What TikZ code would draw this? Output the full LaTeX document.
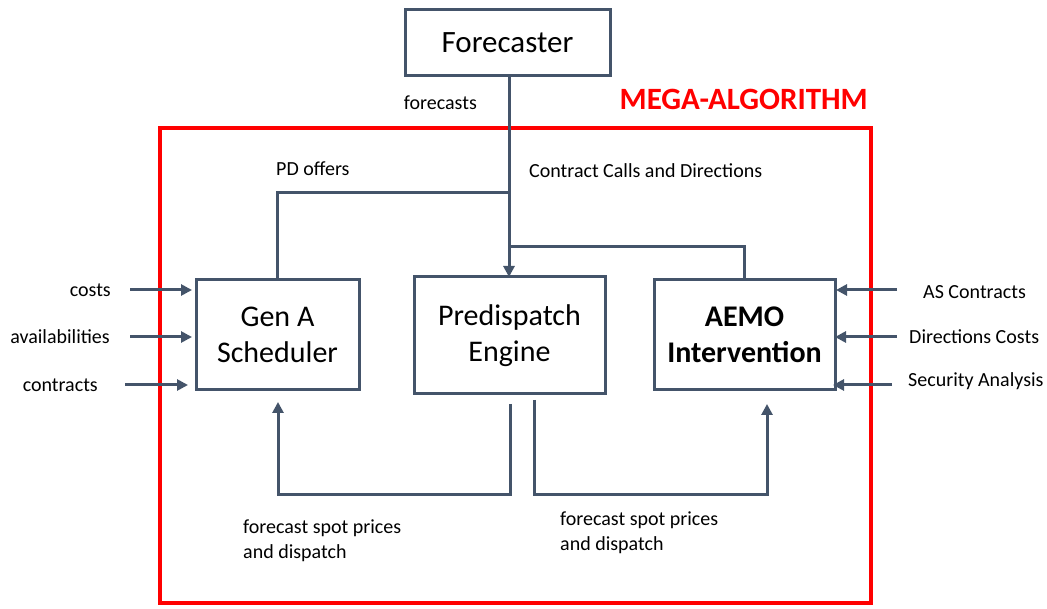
\documentclass[tikz,border=0pt]{standalone}
\usepackage{fontspec}
\setmainfont{Carlito}
\usetikzlibrary{arrows.meta}
\definecolor{slate}{HTML}{44546A}
\definecolor{megared}{HTML}{FF0000}
\tikzset{
  box/.style={draw=slate, line width=3pt, inner sep=0pt, outer sep=0pt, align=center, font=\fontsize{30}{36}\selectfont},
  conn/.style={draw=slate, line width=3pt},
  arr/.style={conn, -{Triangle[length=11pt,width=11pt]}},
  lbl/.style={inner sep=0pt, font=\fontsize{20}{25}\selectfont, text=black},
}
\begin{document}
\begin{tikzpicture}[x=1pt,y=-1pt]
\useasboundingbox (0,0) rectangle (1047,609);
% mega-algorithm frame
\draw[megared, line width=4pt] (160,128) rectangle (871,603);
\node[inner sep=0pt, anchor=east, text=megared, font=\fontsize{31}{33}\selectfont\bfseries] (mega) at (868,99) {MEGA-ALGORITHM};
% boxes
\node[box, minimum width=205pt, minimum height=66pt, font=\fontsize{31}{36}\selectfont] (fc) at (507.5,43) {Forecaster};
\node[box, minimum width=163pt, minimum height=110pt] (gen) at (277.5,335) {Gen A\\Scheduler};
\node[box, minimum width=191pt, minimum height=117pt] (pd) at (509.5,335.5) {Predispatch\\Engine};
\node[box, minimum width=181pt, minimum height=110pt, font=\fontsize{30}{36}\selectfont\bfseries] (aemo) at (744.5,335) {AEMO\\Intervention};
% coordinates
\coordinate (fcout) at (509,76);
\coordinate (pdj) at (509,193);
\coordinate (aj) at (509,247);
% top connectors
\draw[arr] (fcout) -- (fcout |- pd.north);
\draw[conn] (gen.north) |- (pdj);
\draw[conn] (aemo.north) |- (aj);
\node[lbl, anchor=east] (lfc) at (477,103) {forecasts};
\node[lbl, anchor=west] (lpd) at (276,169) {PD offers};
\node[lbl, anchor=west] (lcc) at (529,171) {Contract Calls and Directions};
% left inputs
\node[lbl, anchor=east] (lcost) at (111,290) {costs};
\node[lbl, anchor=east] (lav) at (110,337) {availabilities};
\node[lbl, anchor=east] (lcon) at (98,385) {contracts};
\coordinate (c1) at (130,290);
\coordinate (c2) at (130,337);
\coordinate (c3) at (125,385);
\draw[arr] (c1) -- ([xshift=-4pt]gen.west |- c1);
\draw[arr] (c2) -- ([xshift=-4pt]gen.west |- c2);
\draw[arr] (c3) -- ([xshift=-8pt]gen.west |- c3);
% right inputs
\node[lbl, anchor=west] (las) at (923,292) {AS Contracts};
\node[lbl, anchor=west] (ldc) at (909,337) {Directions Costs};
\node[lbl, anchor=west] (lsa) at (908,381) {Security Analysis};
\coordinate (r1) at (897,290);
\coordinate (r2) at (897,337);
\coordinate (r3) at (892,385);
\draw[arr] (r1) -- ([xshift=1pt]aemo.east |- r1);
\draw[arr] (r2) -- (aemo.east |- r2);
\draw[arr] (r3) -- ([xshift=-2pt]aemo.east |- r3);
% bottom loops
\coordinate (b1) at (510,404);
\coordinate (b2) at (534,400);
\coordinate (g1) at (278,402);
\coordinate (a1) at (767,404);
\draw[arr] (b1) -- (b1 |- 0,494) -| (g1);
\draw[arr] (b2) -- (b2 |- 0,494) -| (a1);
\node[lbl, anchor=north west, align=left] (lb1) at (243,520) {forecast spot prices\\and dispatch};
\node[lbl, anchor=north west, align=left] (lb2) at (560,512) {forecast spot prices\\and dispatch};
\end{tikzpicture}
\end{document}
